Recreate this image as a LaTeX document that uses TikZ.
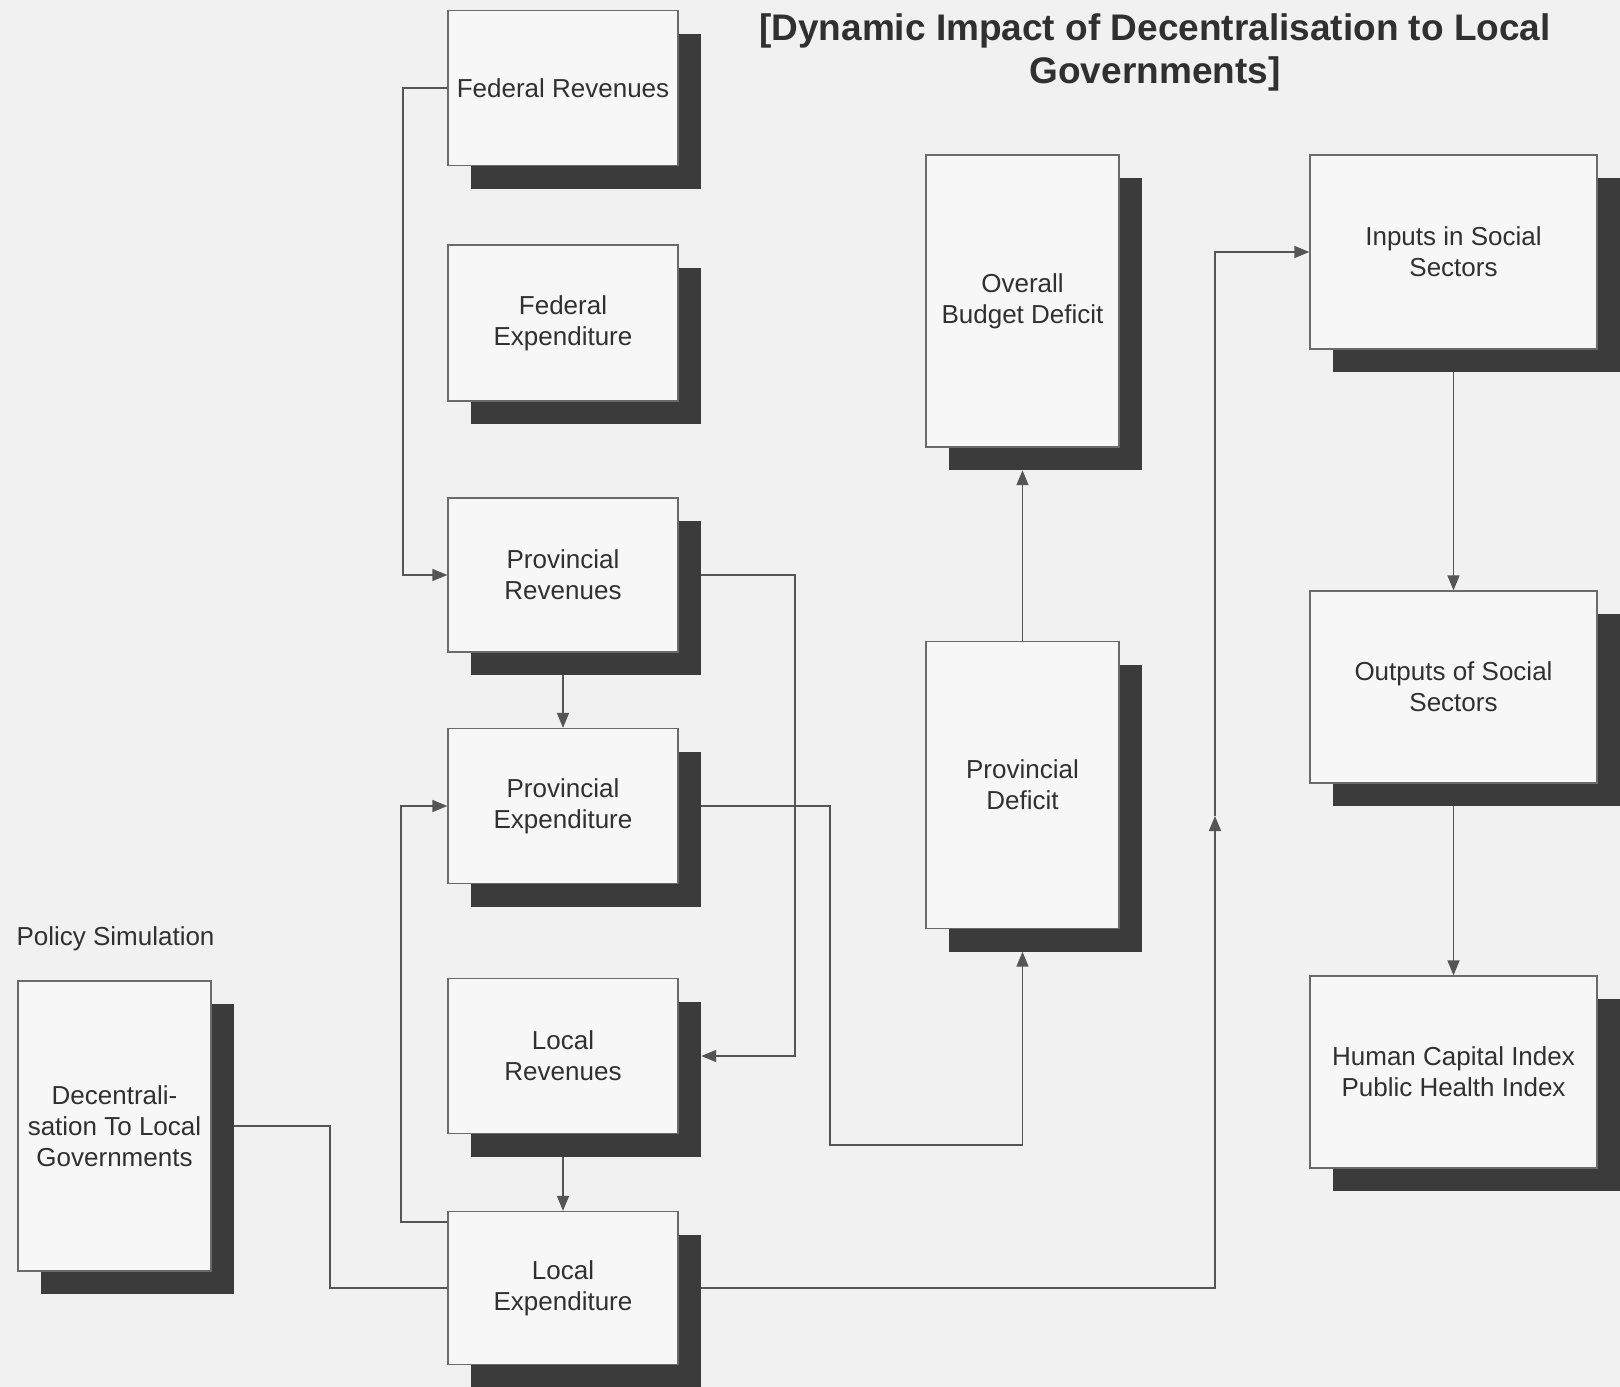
\documentclass[tikz,border=0pt]{standalone}
\usepackage{fontspec}
\setmainfont{Liberation Sans}
\usetikzlibrary{arrows.meta,backgrounds}

\definecolor{paper}{HTML}{F1F1F1}
\definecolor{cardfill}{HTML}{F7F7F7}
\definecolor{ink}{HTML}{303030}
\definecolor{edge}{HTML}{6A6A6A}
\definecolor{shade}{HTML}{3B3B3B}
\definecolor{wire}{HTML}{555555}

\tikzset{
  card/.style={draw=edge, line width=1.3pt, fill=cardfill, text=ink, align=center,
    inner sep=0pt, font=\fontsize{26}{31}\selectfont},
  cardshadow/.style={fill=shade, draw=none, inner sep=0pt},
  wire/.style={draw=wire, line width=1.5pt},
  flow/.style={wire, -{Triangle[length=15pt,width=12pt]}},
}

% card with its drop shadow: name, centre x, centre y, width, height, text
\newcommand\flowcard[6]{%
  \node[cardshadow, minimum width=#4pt, minimum height=#5pt] (#1s) at (#2+23,#3+23) {};
  \node[card, minimum width=#4pt, minimum height=#5pt] (#1) at (#2,#3) {#6};
}

\begin{document}
\begin{tikzpicture}[x=1pt,y=-1pt]
\useasboundingbox (0,0) rectangle (1620,1387);

% title and side caption
\node[font=\bfseries\fontsize{37}{43}\selectfont, text=ink, align=center] (title)
  at (1155,52) {[Dynamic Impact of Decentralisation to Local\\Governments]};
\node[anchor=west, text=ink, font=\fontsize{26}{31}\selectfont] (policy) at (13,939) {Policy Simulation};

% federal, provincial and local accounts
\flowcard{FR}{563}{88}{230}{155}{Federal Revenues}
\flowcard{FE}{563}{323}{230}{156}{Federal\\Expenditure}
\flowcard{PR}{563}{575}{230}{154}{Provincial\\Revenues}
\flowcard{PE}{563}{806}{230}{155}{Provincial\\Expenditure}
\flowcard{LR}{563}{1056}{230}{155}{Local\\Revenues}
\flowcard{LE}{563}{1288}{230}{153}{Local\\Expenditure}

% policy lever
\flowcard{DC}{114.5}{1126}{193}{290}{Decentrali-\\sation To Local\\Governments}

% deficits
\flowcard{OBD}{1022.5}{301}{193}{292}{Overall\\Budget Deficit}
\flowcard{PD}{1022.5}{785}{193}{287}{Provincial\\Deficit}

% social sector chain
\flowcard{IS}{1453.5}{252}{287}{194}{Inputs in Social\\Sectors}
\flowcard{OS}{1453.5}{687}{287}{192}{Outputs of Social\\Sectors}
\flowcard{HC}{1453.5}{1072}{287}{192}{Human Capital Index\\Public Health Index}

% routing points for the connectors
\coordinate (fedBus) at (403,0);
\coordinate (provBus) at (795,0);
\coordinate (expBus) at (830,1145);
\coordinate (loopTop) at (401,1222);
\coordinate (decBus) at (330,0);
\coordinate (riser) at (1215,816);

\begin{pgfonlayer}{background}
  \fill[paper] (0,0) rectangle (1620,1387);

  \draw[flow] (FR.west) -- (FR.west -| fedBus) -- (fedBus |- PR.west) -- (PR.west);
  \draw[flow] (PR.south) -- (PE.north);
  \draw[flow] (PR.east) -- (PR.east -| provBus) -- (provBus |- LR.east) -- (LRs.east |- LR.east);
  \draw[flow] (PE.east) -| (expBus) -| (PD.center |- PDs.south);
  \draw[flow] (PD.north) -- (OBD.center |- OBDs.south);
  \draw[flow] (loopTop -| LE.west) -- (loopTop) |- (PE.west);
  \draw[wire] (DC.east) -| (decBus |- LE.west) -- (LE.west);
  \draw[flow] (LR.south) -- (LE.north);
  \draw[flow] (LE.east) -| (riser);
  \draw[flow] (riser) |- (IS.west);
  \draw[flow] (IS.south) -- (OS.north);
  \draw[flow] (OS.south) -- (HC.north);
\end{pgfonlayer}
\end{tikzpicture}
\end{document}
